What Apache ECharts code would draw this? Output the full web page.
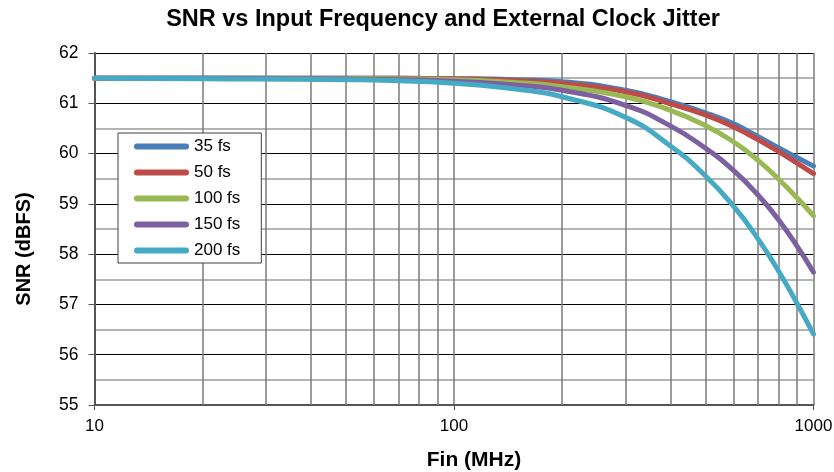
<!DOCTYPE html>
<html>
<head>
<meta charset="utf-8">
<script src="https://cdn.jsdelivr.net/npm/echarts@6/dist/echarts.min.js"></script>
<style>
  html, body { margin: 0; padding: 0; background: #fff; }
  #chart { width: 834px; height: 472px; }
</style>
</head>
<body>
<div id="chart"></div>
<script>
// input frequency (MHz)
const freqs = [10, 20, 50, 100, 150, 200, 300, 400, 500, 600, 700, 800, 900, 1000];
// SNR (dBFS) per clock jitter
const snr35 = [61.5, 61.5, 61.5, 61.49, 61.47, 61.43, 61.26, 61.03, 60.81, 60.59, 60.34, 60.11, 59.92, 59.75];
const snr50 = [61.5, 61.5, 61.5, 61.49, 61.45, 61.40, 61.23, 60.99, 60.77, 60.53, 60.28, 60.04, 59.81, 59.6];
const snr100 = [61.5, 61.5, 61.49, 61.47, 61.41, 61.33, 61.13, 60.86, 60.56, 60.23, 59.87, 59.49, 59.12, 58.76];
const snr150 = [61.5, 61.5, 61.48, 61.44, 61.36, 61.26, 60.96, 60.55, 60.11, 59.66, 59.18, 58.68, 58.16, 57.64];
const snr200 = [61.5, 61.49, 61.47, 61.40, 61.28, 61.13, 60.72, 60.15, 59.56, 58.95, 58.31, 57.66, 57.02, 56.41];
const seriesNames = ['35 fs', '50 fs', '100 fs', '150 fs', '200 fs'];
const seriesColors = ['#4a7ebb', '#be4b48', '#98b954', '#7d60a0', '#46aac5'];
// minor vertical grid positions between decades
const minorFreqs = [20, 30, 40, 50, 60, 70, 80, 90, 200, 300, 400, 500, 600, 700, 800, 900];

const font = "'Liberation Sans', Arial, sans-serif";
const allData = [snr35, snr50, snr100, snr150, snr200];

let series = allData.map((vals, i) => {
  let s = {
    name: seriesNames[i],
    type: 'line',
    data: freqs.map((f, j) => [f, vals[j]]),
    smooth: 0.5,
    showSymbol: false,
    color: seriesColors[i],
    lineStyle: { width: 5, cap: 'round', color: seriesColors[i] },
    z: 3
  };
  if (i === 0) {
    s.markLine = {
      silent: true,
      symbol: 'none',
      z: 1,
      label: { show: false },
      lineStyle: { color: '#7a7a7a', width: 1.5, type: 'solid' },
      emphasis: { disabled: true },
      data: minorFreqs.map(f => ({ xAxis: f }))
    };
  }
  return s;
});

let chart = echarts.init(document.getElementById('chart'));
chart.setOption({
  animation: false,
  backgroundColor: '#fff',
  title: {
    text: 'SNR vs Input Frequency and External Clock Jitter',
    left: 443,
    top: 8,
    textAlign: 'center',
    padding: 0,
    textStyle: { fontFamily: font, fontSize: 23.5, fontWeight: 'bold', color: '#000' }
  },
  legend: {
    orient: 'vertical',
    left: 118,
    top: 133,
    data: seriesNames,
    icon: 'path://M3,0L53,0A3,3,0,0,1,53,6L3,6A3,3,0,0,1,3,0Z',
    itemWidth: 55,
    itemHeight: 6,
    itemGap: 9,
    padding: [5, 21, 4, 16],
    backgroundColor: '#fff',
    borderColor: '#404040',
    borderWidth: 1,
    textStyle: { fontFamily: font, fontSize: 17, color: '#000' }
  },
  grid: { left: 94.5, right: 20.5, top: 53, bottom: 67, outerBoundsMode: 'none', containLabel: false },
  xAxis: {
    type: 'log',
    logBase: 10,
    min: 10,
    max: 1000,
    name: 'Fin (MHz)',
    nameLocation: 'middle',
    nameGap: 45,
    nameTextStyle: { fontFamily: font, fontSize: 21, fontWeight: 'bold', color: '#000', padding: [0, 0, 0, 40] },
    axisLine: { show: true, onZero: false, lineStyle: { color: '#555', width: 2 } },
    axisTick: { show: true, length: 5, lineStyle: { color: '#555' } },
    axisLabel: { fontFamily: font, fontSize: 17, color: '#000', margin: 13, formatter: v => String(v) },
    splitLine: { show: true, lineStyle: { color: '#7a7a7a', width: 1.5 } }
  },
  yAxis: {
    type: 'value',
    min: 55,
    max: 62,
    interval: 1,
    name: 'SNR (dBFS)',
    nameLocation: 'middle',
    nameRotate: 90,
    nameGap: 60,
    nameTextStyle: { fontFamily: font, fontSize: 20, fontWeight: 'bold', color: '#000', padding: [0, 40, 0, 0] },
    axisLine: { show: true, lineStyle: { color: '#555', width: 2 } },
    axisTick: { show: true, length: 6, lineStyle: { color: '#555' } },
    axisLabel: { fontFamily: font, fontSize: 17.5, color: '#000', margin: 16 },
    splitLine: { show: true, lineStyle: { color: '#000', width: 1 } },
    minorTick: { show: false, splitNumber: 2 },
    minorSplitLine: { show: true, lineStyle: { color: '#b4b4b4', width: 2 } }
  },
  series: series
});
</script>
</body>
</html>
